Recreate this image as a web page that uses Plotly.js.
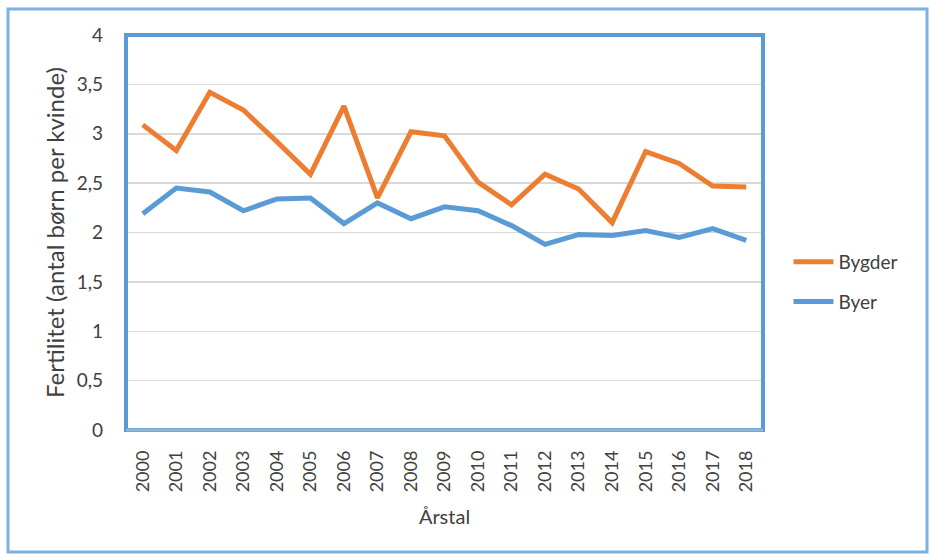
<!DOCTYPE html>
<html><head><meta charset="utf-8">
<script src="https://cdn.plot.ly/plotly-3.0.1.min.js"></script>
<style>body{margin:0;background:#fff}#c{width:930px;height:555px}</style>
</head><body><div id="c"></div>
<script>
const years = ['2000','2001','2002','2003','2004','2005','2006','2007','2008','2009','2010','2011','2012','2013','2014','2015','2016','2017','2018'];
const bygder = [3.09,2.83,3.42,3.24,2.92,2.59,3.28,2.35,3.02,2.98,2.51,2.28,2.59,2.44,2.10,2.82,2.70,2.47,2.46];
const byer = [2.19,2.45,2.41,2.22,2.34,2.35,2.09,2.30,2.14,2.26,2.22,2.07,1.88,1.98,1.97,2.02,1.95,2.04,1.92];
const seriesNames = ['Bygder','Byer'];
const yTitle = 'Fertilitet (antal børn per kvinde)';
const xTitle = 'Årstal';

const font = 'Lato, "Open Sans", sans-serif';
const txt = '#404040';
const traces = [
  {x: years, y: bygder, name: seriesNames[0], type:'scatter', mode:'lines', legendgroup:'a',
   line:{color:'#ED7D31', width:5}},
  {x: years, y: byer, name: seriesNames[1], type:'scatter', mode:'lines', legendgroup:'b',
   line:{color:'#5B9BD5', width:5}}
];
const layout = {
  width:930, height:555,
  margin:{l:126, r:167, t:35, b:125},
  paper_bgcolor:'#fff', plot_bgcolor:'#fff',
  separators:',.',
  font:{family:font, color:txt, size:18},
  xaxis:{type:'category', range:[-0.5, 18.5], tickangle:-90, showgrid:false, showline:false, zeroline:false,
    ticks:'', ticklen:0, tickfont:{size:18, color:txt}, ticklabelstandoff:16,
    title:{text:xTitle, font:{size:20, color:txt}, standoff:18}},
  yaxis:{range:[0,4], dtick:0.5, tick0:0, showgrid:true, gridcolor:'#D9D9D9', gridwidth:1.5,
    zeroline:false, showline:false, ticks:'', tickfont:{size:19, color:txt},
    ticklabelstandoff:22,
    title:{text:yTitle, font:{size:24, color:txt}, standoff:5}},
  showlegend:true,
  legend:{x:1.04, xanchor:'left', y:0.375, yanchor:'middle', font:{size:19, color:txt},
    tracegroupgap:12, traceorder:'grouped', itemwidth:40, bgcolor:'rgba(0,0,0,0)'},
  shapes:[
    {type:'rect', xref:'paper', yref:'paper', x0:0, x1:1, y0:0, y1:1,
     line:{color:'#5B9BD5', width:4}, layer:'above'},
    {type:'line', xref:'paper', yref:'paper', x0:0, x1:1, y0:0, y1:0,
     line:{color:'#8FB4D8', width:3}, layer:'above'},
    {type:'rect', xref:'paper', yref:'paper',
     x0:(8-126)/637, x1:(927-126)/637, y0:(430-552)/395, y1:(430-9)/395,
     line:{color:'#7DB1E0', width:3}, layer:'below'}
  ]
};
Plotly.newPlot('c', traces, layout, {displayModeBar:false, staticPlot:true});
</script></body></html>
